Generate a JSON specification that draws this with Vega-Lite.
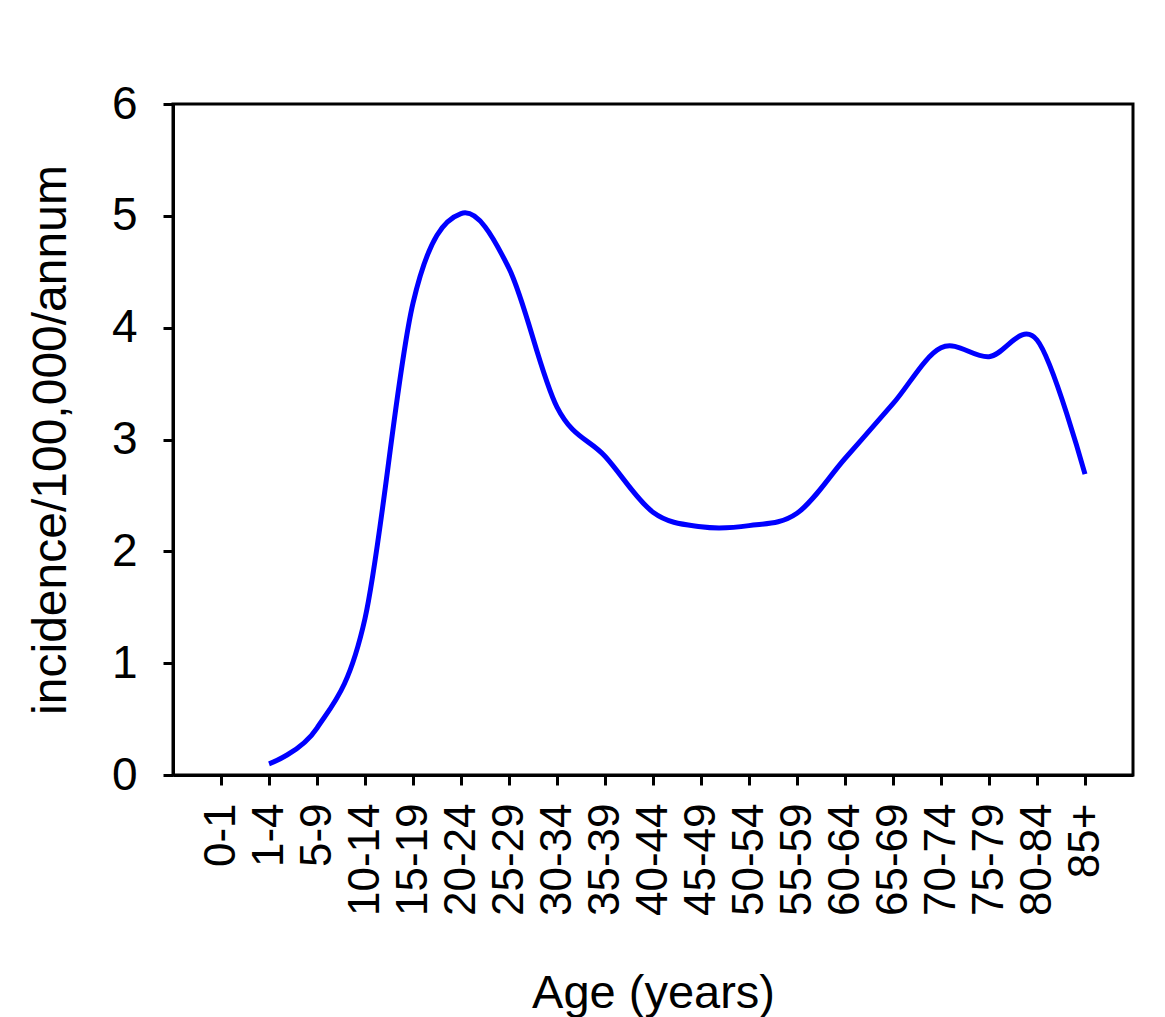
{
  "$schema": "https://vega.github.io/schema/vega-lite/v6.json",
  "width": 960,
  "height": 671,
  "autosize": {"type": "none"},
  "padding": {"left": 173, "top": 104, "right": 32, "bottom": 242},
  "background": "white",
  "config": {
    "font": "Liberation Sans",
    "view": {"stroke": "black", "strokeWidth": 3},
    "axis": {
      "domainColor": "black",
      "domainWidth": 3,
      "tickColor": "black",
      "tickWidth": 3,
      "labelColor": "black",
      "titleColor": "black",
      "grid": false,
      "titleFontWeight": "normal",
      "labelFont": "Liberation Sans",
      "titleFont": "Liberation Sans"
    }
  },
  "data": {
    "values": [
      {"age": "0-1", "incidence": null},
      {"age": "1-4", "incidence": 0.1},
      {"age": "5-9", "incidence": 0.42},
      {"age": "10-14", "incidence": 1.4},
      {"age": "15-19", "incidence": 4.22},
      {"age": "20-24", "incidence": 5.02},
      {"age": "25-29", "incidence": 4.53},
      {"age": "30-34", "incidence": 3.29},
      {"age": "35-39", "incidence": 2.85},
      {"age": "40-44", "incidence": 2.35},
      {"age": "45-49", "incidence": 2.22},
      {"age": "50-54", "incidence": 2.23},
      {"age": "55-59", "incidence": 2.34},
      {"age": "60-64", "incidence": 2.83},
      {"age": "65-69", "incidence": 3.32},
      {"age": "70-74", "incidence": 3.82},
      {"age": "75-79", "incidence": 3.74},
      {"age": "80-84", "incidence": 3.89},
      {"age": "85+", "incidence": 2.69}
    ]
  },
  "mark": {"type": "line", "interpolate": "cardinal", "color": "#0000ff", "strokeWidth": 5},
  "encoding": {
    "x": {
      "field": "age",
      "type": "ordinal",
      "sort": null,
      "scale": {
        "type": "point",
        "padding": 1,
        "domain": ["0-1", "1-4", "5-9", "10-14", "15-19", "20-24", "25-29", "30-34", "35-39", "40-44", "45-49", "50-54", "55-59", "60-64", "65-69", "70-74", "75-79", "80-84", "85+"]
      },
      "axis": {
        "title": "Age (years)",
        "labelAngle": -90,
        "labelFontSize": 44,
        "labelPadding": 18,
        "tickSize": 10,
        "titleFontSize": 47,
        "titlePadding": 55
      }
    },
    "y": {
      "field": "incidence",
      "type": "quantitative",
      "scale": {"domain": [0, 6]},
      "axis": {
        "values": [0, 1, 2, 3, 4, 5, 6],
        "title": "incidence/100,000/annum",
        "labelFontSize": 46,
        "labelPadding": 26,
        "tickSize": 10,
        "titleFontSize": 48,
        "titlePadding": 36
      }
    }
  }
}
